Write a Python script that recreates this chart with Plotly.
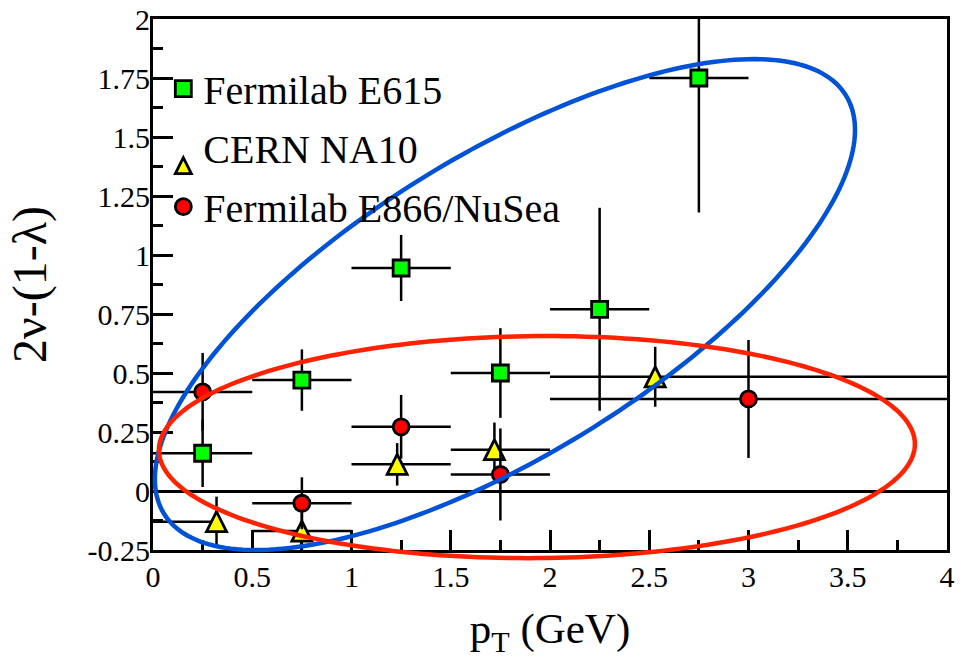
import math
import plotly.graph_objects as go

# ---------------- data ----------------
e615_pt = [0.25, 0.75, 1.25, 1.75, 2.25, 2.75]
e615_val = [0.16, 0.47, 0.945, 0.50, 0.77, 1.75]
e615_err = [0.143, 0.13, 0.14, 0.19, 0.43, 0.57]
e615_xerr = [0.25, 0.25, 0.25, 0.25, 0.25, 0.25]

na10_pt = [0.32, 0.75, 1.23, 1.72, 2.53]
na10_val = [-0.13, -0.17, 0.113, 0.175, 0.484]
na10_err = [0.106, 0.08, 0.09, 0.115, 0.127]
na10_xerr_minus = [0.32, 0.25, 0.23, 0.22, 0.53]
na10_xerr_plus = [0.0, 0.25, 0.27, 0.28, 1.47]

e866_pt = [0.25, 0.75, 1.25, 1.75, 3.0]
e866_val = [0.42, -0.052, 0.272, 0.07, 0.39]
e866_err = [0.165, 0.11, 0.135, 0.195, 0.25]
e866_xerr = [0.25, 0.25, 0.25, 0.25, 1.0]

x_tick_vals = [0, 0.5, 1, 1.5, 2, 2.5, 3, 3.5, 4]
x_tick_text = ["0", "0.5", "1", "1.5", "2", "2.5", "3", "3.5", "4"]
y_tick_vals = [-0.25, 0, 0.25, 0.5, 0.75, 1, 1.25, 1.5, 1.75, 2]
y_tick_text = ["-0.25", "0", "0.25", "0.5", "0.75", "1", "1.25", "1.5", "1.75", "2"]

series_names = ["Fermilab E615", "CERN NA10", "Fermilab E866/NuSea"]

# ellipse outlines (centre in data units, semi-axes in screen px, tilt in degrees)
blue_ellipse = dict(cx=1.773, cy=0.79, a=400, b=151, ang=31.5)
red_ellipse = dict(cx=1.934, cy=0.186, a=378, b=111, ang=0.5)

# ---------------- layout geometry ----------------
W, H = 968, 660
ML, MR, MT, MB = 153, 21, 19, 110
PW, PH = W - ML - MR, H - MT - MB
X0, X1 = 0.0, 4.0
Y0, Y1 = -0.25, 2.0

FONT = "Liberation Serif"
ERR = dict(type="data", thickness=2.5, width=0, color="black")


def serif(t):
    return f"<span style='font-family:{FONT}'>{t}</span>"


def ellipse_path(e, n=240):
    cxp = (e["cx"] - X0) / (X1 - X0) * PW
    cyp = (e["cy"] - Y0) / (Y1 - Y0) * PH
    phi = math.radians(e["ang"])
    pts = []
    for i in range(n):
        t = 2 * math.pi * i / n
        u = e["a"] * math.cos(t)
        v = e["b"] * math.sin(t)
        px = cxp + u * math.cos(phi) - v * math.sin(phi)
        py = cyp + u * math.sin(phi) + v * math.cos(phi)
        pts.append(f"{px / PW:.5f},{py / PH:.5f}")
    return "M " + " L ".join(pts) + " Z"


fig = go.Figure()

fig.add_trace(go.Scatter(
    x=e615_pt, y=e615_val, mode="markers", name=series_names[0],
    legendgroup="a",
    marker=dict(symbol="square", size=16, color="#00ff00",
                line=dict(color="black", width=2.8)),
    error_y=dict(array=e615_err, **ERR),
    error_x=dict(array=e615_xerr, **ERR),
))

fig.add_trace(go.Scatter(
    x=na10_pt, y=na10_val, mode="markers", name=series_names[1],
    legendgroup="b",
    marker=dict(symbol="arrow-down", angle=180, standoff=10, size=20,
                color="#ffff00", line=dict(color="black", width=2.8)),
    error_y=dict(array=na10_err, **ERR),
    error_x=dict(symmetric=False, array=na10_xerr_plus,
                 arrayminus=na10_xerr_minus, **ERR),
))

fig.add_trace(go.Scatter(
    x=e866_pt, y=e866_val, mode="markers", name=series_names[2],
    legendgroup="c",
    marker=dict(symbol="circle", size=16, color="#ff0000",
                line=dict(color="black", width=2.8)),
    error_y=dict(array=e866_err, **ERR),
    error_x=dict(array=e866_xerr, **ERR),
))

shapes = [
    dict(type="path", xref="paper", yref="paper", path=ellipse_path(blue_ellipse),
         line=dict(color="#0052d6", width=4.5), layer="above"),
    dict(type="path", xref="paper", yref="paper", path=ellipse_path(red_ellipse),
         line=dict(color="#ff2200", width=4.5), layer="above"),
]

fig.update_layout(
    width=W, height=H,
    margin=dict(l=ML, r=MR, t=MT, b=MB, autoexpand=False),
    paper_bgcolor="white", plot_bgcolor="white",
    font=dict(color="black", size=30),
    shapes=shapes,
    showlegend=True,
    legend=dict(x=0.013, y=0.93, xanchor="left", yanchor="top",
                bgcolor="rgba(0,0,0,0)", borderwidth=0,
                font=dict(family=FONT, size=40, color="black"),
                traceorder="grouped", tracegroupgap=4,
                itemsizing="trace"),
    xaxis=dict(
        range=[X0, X1], tickmode="array", tickvals=x_tick_vals,
        ticktext=[serif(t) for t in x_tick_text],
        ticks="inside", ticklen=20, tickwidth=2.5, tickcolor="black",
        minor=dict(ticks="inside", ticklen=10, tickwidth=2.5, tickcolor="black",
                   tickmode="linear", tick0=0, dtick=0.25),
        showline=True, linewidth=3, linecolor="black", mirror=True,
        showgrid=False, zeroline=False, automargin=False,
        tickfont=dict(family=FONT, size=30, color="black"), ticklabelstandoff=-2,
        ticklabeloverflow="allow",
        title=dict(text="p<sub>T</sub> (GeV)",
                   font=dict(family=FONT, size=43, color="black"), standoff=21),
    ),
    yaxis=dict(
        range=[Y0, Y1], tickmode="array", tickvals=y_tick_vals,
        ticktext=[serif(t) for t in y_tick_text],
        ticks="inside", ticklen=20, tickwidth=2.5, tickcolor="black",
        minor=dict(ticks="inside", ticklen=10, tickwidth=2.5, tickcolor="black",
                   tickmode="linear", tick0=0, dtick=0.125),
        showline=True, linewidth=3, linecolor="black", mirror=True,
        showgrid=False, zeroline=True, zerolinecolor="black", zerolinewidth=2.5,
        automargin=False,
        tickfont=dict(family=FONT, size=30, color="black"), ticklabelstandoff=-6,
        ticklabeloverflow="allow",
        title=dict(text="2ν-(1-λ)",
                   font=dict(family=FONT, size=48, color="black"), standoff=26),
    ),
)

fig.write_html("out.html", config={"displayModeBar": False},
               post_script="document.body.style.margin='0';")
